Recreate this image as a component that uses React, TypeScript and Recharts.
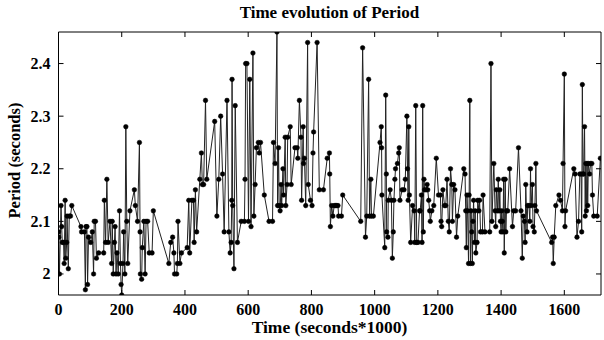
import { LineChart, Line, XAxis, YAxis } from 'recharts';

const times = [
  0, 1, 3, 8, 10, 12, 16, 18, 21, 23, 26, 27, 31, 34, 38, 42, 71, 73, 82, 85,
  87, 90, 92, 95, 102, 107, 111, 113, 117, 120, 127, 143, 145, 149, 153, 157, 163, 168, 170, 173,
  177, 179, 182, 185, 189, 193, 196, 198, 200, 204, 206, 210, 213, 216, 219, 226, 240, 243, 250, 256,
  258, 259, 263, 265, 270, 274, 277, 282, 287, 296, 300,
  349, 355, 361, 365, 367, 374, 376, 378, 384, 389, 407, 412, 415, 422, 427, 429, 433, 437, 447, 452,
  455, 459, 465, 469, 494, 501, 507, 513, 519, 524, 533, 539, 543, 546, 548, 549, 551, 555, 559, 566,
  578, 588, 590, 592, 596, 601, 605, 609, 615, 618, 622, 626, 632, 635, 639, 651, 666, 677, 680, 685,
  691, 693, 696, 698, 701, 704, 706, 710, 712, 717, 719, 723, 725, 733, 736, 748, 755, 757, 762, 767,
  769, 774, 775, 778, 782, 788, 790, 797, 802, 805, 807, 818, 825, 838, 850, 857, 858, 860, 864, 868,
  872, 876, 880, 884, 886, 895, 899, 956, 962, 971, 975, 981, 984, 988, 990, 996, 1017, 1021, 1022, 1023,
  1032, 1035, 1037, 1038, 1042, 1043, 1049, 1053, 1056, 1059, 1061, 1064, 1066, 1072, 1076, 1078, 1080, 1087, 1093, 1097,
  1102, 1104, 1106, 1108, 1110, 1114, 1120, 1125, 1127, 1130, 1133, 1137, 1142, 1144, 1148, 1150, 1152, 1154, 1156, 1158,
  1163, 1166, 1168, 1171, 1174, 1176, 1181, 1187, 1195, 1202, 1208, 1210, 1212, 1216, 1221, 1225, 1229, 1233, 1236, 1240,
  1244, 1246, 1250, 1254, 1259, 1263, 1282, 1286, 1288, 1290, 1292, 1294, 1297, 1299, 1301, 1303, 1305, 1307, 1309, 1311,
  1313, 1316, 1318, 1320, 1324, 1326, 1330, 1332, 1335, 1341, 1343, 1349, 1364, 1368, 1371, 1377, 1381, 1383, 1385, 1389,
  1391, 1394, 1396, 1398, 1400, 1402, 1404, 1406, 1408, 1410, 1413, 1415, 1417, 1421, 1427, 1436, 1440, 1446, 1455, 1463,
  1467, 1470, 1474, 1476, 1478, 1482, 1484, 1488, 1491, 1493, 1495, 1499, 1501, 1505, 1507, 1510, 1512, 1560, 1563, 1565,
  1568, 1573, 1583, 1588, 1594, 1596, 1600, 1602, 1604, 1630, 1634, 1640, 1645, 1649, 1653, 1655, 1657, 1659, 1661, 1664,
  1666, 1668, 1670, 1672, 1674, 1676, 1680, 1683, 1687, 1689, 1693, 1704, 1714,
];

const periods = [
  2.08, 2.07, 2.0, 2.13, 2.09, 2.06, 2.06, 2.02, 2.14, 2.03, 2.06, 2.11, 2.01, 2.11, 2.11, 2.13, 2.09, 2.08, 2.08, 1.97,
  2.09, 2.09, 1.98, 2.07, 2.06, 2.08, 2.0, 2.1, 2.1, 2.03, 2.04, 2.04, 2.14, 2.06, 2.18, 2.06, 2.1, 2.02, 2.1, 2.0,
  2.06, 2.09, 2.0, 2.04, 2.0, 2.12, 2.02, 1.98, 1.96, 2.02, 2.08, 2.0, 2.28, 2.1, 2.02, 2.12, 2.16, 2.13, 2.1, 2.25,
  2.08, 2.0, 1.99, 2.05, 2.1, 2.0, 2.1, 2.1, 2.04, 2.04, 2.12,
  2.02, 2.06, 2.07, 2.04, 2.0, 2.0, 2.02, 2.1, 2.02, 2.04, 2.05, 2.14, 2.04, 2.14, 2.14, 2.06, 2.16, 2.08, 2.18, 2.23,
  2.17, 2.17, 2.33, 2.18, 2.29, 2.11, 2.18, 2.3, 2.19, 2.08, 2.33, 2.08, 2.04, 2.06, 2.14, 2.37, 2.13, 2.01, 2.32, 2.06,
  2.1, 2.1, 2.18, 2.4, 2.4, 2.1, 2.37, 2.09, 2.42, 2.11, 2.17, 2.24, 2.25, 2.23, 2.25, 2.15, 2.1, 2.1, 2.25, 2.21,
  2.46, 2.13, 2.24, 2.13, 2.12, 2.17, 2.13, 2.2, 2.15, 2.26, 2.13, 2.17, 2.26, 2.28, 2.17, 2.24, 2.24, 2.22, 2.33, 2.26,
  2.14, 2.28, 2.21, 2.22, 2.13, 2.44, 2.17, 2.14, 2.13, 2.23, 2.27, 2.44, 2.16, 2.16, 2.22, 2.23, 2.19, 2.09, 2.13, 2.11,
  2.13, 2.13, 2.13, 2.13, 2.11, 2.11, 2.15, 2.1, 2.43, 2.07, 2.11, 2.37, 2.11, 2.18, 2.11, 2.11, 2.25, 2.28, 2.24, 2.15,
  2.05, 2.34, 2.19, 2.08, 2.07, 2.14, 2.16, 2.14, 2.03, 2.08, 2.14, 2.18, 2.2, 2.21, 2.23, 2.24, 2.14, 2.16, 2.16, 2.18,
  2.3, 2.2, 2.14, 2.28, 2.15, 2.06, 2.13, 2.12, 2.06, 2.32, 2.06, 2.06, 2.12, 2.12, 2.15, 2.06, 2.32, 2.08, 2.18, 2.16,
  2.16, 2.17, 2.16, 2.14, 2.12, 2.1, 2.12, 2.13, 2.22, 2.15, 2.15, 2.1, 2.09, 2.16, 2.13, 2.13, 2.18, 2.1, 2.08, 2.2,
  2.17, 2.1, 2.17, 2.16, 2.07, 2.11, 2.2, 2.19, 2.12, 2.05, 2.15, 2.12, 2.02, 2.15, 2.33, 2.02, 2.12, 2.08, 2.02, 2.1,
  2.14, 2.06, 2.12, 2.04, 2.06, 2.14, 2.12, 2.14, 2.08, 2.08, 2.15, 2.08, 2.08, 2.4, 2.1, 2.21, 2.12, 2.09, 2.16, 2.12,
  2.18, 2.12, 2.16, 2.1, 2.08, 2.12, 2.1, 2.08, 2.18, 2.04, 2.18, 2.08, 2.12, 2.12, 2.2, 2.09, 2.12, 2.12, 2.24, 2.12,
  2.03, 2.11, 2.1, 2.06, 2.17, 2.08, 2.13, 2.13, 2.1, 2.2, 2.13, 2.17, 2.09, 2.08, 2.13, 2.21, 2.12, 2.06, 2.07, 2.02,
  2.07, 2.13, 2.15, 2.14, 2.12, 2.21, 2.38, 2.09, 2.12, 2.2, 2.19, 2.07, 2.1, 2.19, 2.19, 2.08, 2.36, 2.19, 2.19, 2.28,
  2.11, 2.21, 2.12, 2.21, 2.13, 2.21, 2.19, 2.21, 2.21, 2.15, 2.11, 2.11, 2.22,
];

const xTicks = [0, 200, 400, 600, 800, 1000, 1200, 1400, 1600];
const yTicks = [2, 2.1, 2.2, 2.3, 2.4];

const data = times.map((t, i) => ({ t, p: periods[i] }));

const font = 'Liberation Serif, Times New Roman, serif';
const tickStyle = { fontFamily: font, fontWeight: 700, fontSize: 16, fill: '#000' };

const BottomTick = (props: any) => {
  const { x, y, payload } = props;
  return (
    <g>
      <line x1={x} y1={y} x2={x} y2={y - 5} stroke="#000" />
      <text x={x} y={y + 20} textAnchor="middle" style={tickStyle}>{payload.value}</text>
    </g>
  );
};

const TopTick = (props: any) => {
  const { x, y } = props;
  return <line x1={x} y1={y} x2={x} y2={y + 5} stroke="#000" />;
};

const LeftTick = (props: any) => {
  const { x, y, payload } = props;
  return (
    <g>
      <line x1={x} y1={y} x2={x + 5} y2={y} stroke="#000" />
      <text x={x - 8} y={y + 5.5} textAnchor="end" style={tickStyle}>{payload.value}</text>
    </g>
  );
};

const RightTick = (props: any) => {
  const { x, y } = props;
  return <line x1={x} y1={y} x2={x - 5} y2={y} stroke="#000" />;
};

export default function App() {
  return (
    <div style={{ position: 'absolute', left: 0, top: 0, width: 604, height: 340, background: '#fff' }}>
      <div style={{ position: 'absolute', left: 58, width: 543, top: 3, textAlign: 'center', fontFamily: font, fontWeight: 700, fontSize: 17, lineHeight: '20px' }}>
        Time evolution of Period
      </div>
      <div style={{ position: 'absolute', left: 58, width: 543, top: 317, textAlign: 'center', fontFamily: font, fontWeight: 700, fontSize: 17.5, lineHeight: '21px' }}>
        Time (seconds*1000)
      </div>
      <div style={{ position: 'absolute', left: -86, top: 150, width: 200, height: 21, transform: 'rotate(-90deg)', textAlign: 'center', fontFamily: font, fontWeight: 700, fontSize: 16.5, lineHeight: '21px' }}>
        Period (seconds)
      </div>
      <LineChart width={604} height={340} data={data} margin={{ top: 31, right: 2, bottom: 0, left: 8.5 }}>
        <XAxis xAxisId="b" dataKey="t" type="number" domain={[0, 1716]} ticks={xTicks} interval={0}
          height={45} tickSize={0} tickMargin={0} tickLine={false} tick={<BottomTick />}
          axisLine={{ stroke: '#000' }} allowDataOverflow />
        <XAxis xAxisId="t" orientation="top" dataKey="t" type="number" domain={[0, 1716]} ticks={xTicks} interval={0}
          height={1} tickSize={0} tickMargin={0} tickLine={false} tick={<TopTick />}
          axisLine={{ stroke: '#000' }} allowDataOverflow />
        <YAxis yAxisId="l" type="number" domain={[1.96, 2.46]} ticks={yTicks} interval={0}
          width={50} tickSize={0} tickMargin={0} tickLine={false} tick={<LeftTick />}
          axisLine={{ stroke: '#000' }} allowDataOverflow />
        <YAxis yAxisId="r" orientation="right" type="number" domain={[1.96, 2.46]} ticks={yTicks} interval={0}
          width={1} tickSize={0} tickMargin={0} tickLine={false} tick={<RightTick />}
          axisLine={{ stroke: '#000' }} allowDataOverflow />
        <Line xAxisId="t" yAxisId="r" dataKey="p" stroke="none" dot={false} activeDot={false} isAnimationActive={false} />
        <Line xAxisId="b" yAxisId="l" dataKey="p" type="linear" stroke="#222" strokeWidth={1}
          dot={{ r: 2.3, fill: '#000', stroke: '#000', strokeWidth: 0.5 }} activeDot={false} isAnimationActive={false} />
      </LineChart>
    </div>
  );
}
